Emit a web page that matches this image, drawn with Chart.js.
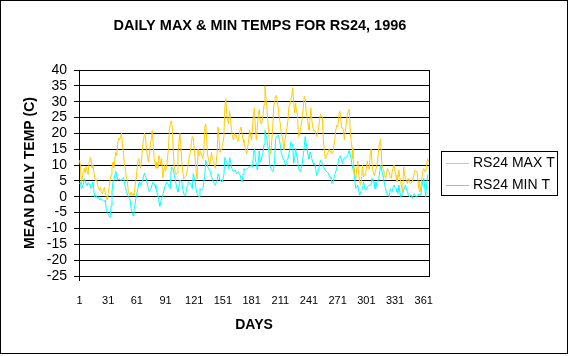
<!DOCTYPE html>
<html><head><meta charset="utf-8">
<script src="https://cdn.jsdelivr.net/npm/chart.js@4"></script>
<style>html,body{margin:0;padding:0;background:#fff}canvas{display:block}</style>
</head><body>
<canvas id="c" width="570" height="356"></canvas>
<script>
const TITLE = 'DAILY MAX & MIN TEMPS FOR RS24, 1996';
const X_TITLE = 'DAYS';
const Y_TITLE = 'MEAN DAILY TEMP (C)';
const SERIES_NAMES = ['RS24 MAX T', 'RS24 MIN T'];
const SERIES_COLORS = ['#FFCC00', '#00FFFF'];
const X_TICK_LABELS = ['1','31','61','91','121','151','181','211','241','271','301','331','361'];
const Y_MIN = -25, Y_MAX = 40, Y_STEP = 5;

const MAX_T = [
 11.5, 10, 4, 6, 8, 9, 7.5, 9.5, 8, 7,
 11, 12.5, 12, 9, 10, 8, 6, 5, 5.5, 3.5,
 3, 2, 3, 1.5, 1, 2, 3, 1, 0, -1,
 1, 3, 5, 7, 9, 11, 9, 12, 14, 13,
 17, 18.5, 18, 19, 20, 16, 14, 10, 9, 6,
 5, 2, 1, 0.5, 1.5, 0.5, 1, 0.5, 3, 5,
 8, 11, 12, 10.5, 9, 12, 16, 18, 20, 19,
 15, 13, 11, 13, 16, 18, 21, 17, 12, 11,
 9, 11, 9, 13, 12, 10, 12, 6, 8, 10,
 8, 9.3, 12, 15, 21, 23, 24, 22, 15, 10,
 8, 7, 7.5, 14, 17, 20, 16, 11, 8, 5.7,
 6, 6.5, 7, 9, 11, 13, 14, 17, 19, 18.5,
 15, 12, 8, 5.7, 15, 13, 14.5, 14, 13, 12,
 14, 22, 23, 18, 13, 12, 10, 11, 14, 12,
 11.5, 10, 9, 11, 14, 22, 18, 14, 15, 16,
 17, 19, 28, 31, 26, 24, 23, 27, 24, 21,
 19, 18, 20, 19, 19.5, 18, 17.5, 19.5, 21, 22,
 20, 18, 17, 16, 14.5, 13.5, 16, 18, 21, 19,
 18, 22, 26, 28, 21, 18, 22, 26, 27.5, 24,
 23, 24, 26, 29, 35, 31, 28, 24, 19.5, 15,
 13.4, 17.5, 21, 28, 30, 31.7, 32, 30, 27.5, 25,
 23, 20, 19, 17, 14.7, 18, 20, 20, 24, 28.5,
 29, 30.7, 32, 34.4, 30, 26.5, 29.5, 27, 26, 19,
 19.5, 21, 23, 25, 28, 31.7, 31, 27, 25, 23,
 21, 24, 28, 24, 22, 20.7, 21, 20, 19, 20,
 21.5, 24, 26, 25.5, 25, 18, 14.7, 12, 12.5, 13.5,
 14, 15, 14.5, 14, 13.5, 14, 16, 18, 21, 22.5,
 22, 25, 27, 26, 21.8, 21.8, 20.7, 18, 20.7, 23,
 26, 27, 27.6, 21.8, 17.6, 15.5, 12, 10, 7, 5.8,
 9, 11.3, 7, 4.7, 3.7, 6, 10, 6.3, 7, 6.8,
 9, 11.3, 9, 8.7, 13.5, 15, 10.4, 8, 6.8, 7.5,
 8.7, 10, 12, 15.6, 17, 18.3, 11, 9, 8.4, 7,
 5.8, 7, 8.9, 8, 7.9, 6, 5.8, 7.9, 9, 10,
 8, 6.8, 4.7, 6, 8.4, 6, 4.7, 2.5, 1.5, 9.4,
 7, 5.8, 5, 4.2, 5.8, 5, 4.2, 4.5, 4.7, 6,
 7.3, 8.4, 8, 7.9, 5, 2.6, 1.5, 3, 5.8, 8,
 8.9, 8, 7.9, 10, 12, 11
];

const MIN_T = [
 4, 4.5, 2.5, 3, 4, 5.7, 5, 4, 3.5, 4.5,
 4, 3.7, 2.6, 3, 4.7, 2, 0, 0.5, 0, -0.5,
 0, -1, -0.5, -1, -1, -1.2, -1.5, -1, -4, -5,
 -5.7, -6, -6.5, -3, 1.5, 4.7, 5, 7, 8, 6.5,
 5.2, 5.5, 5.7, 5.2, 5.2, 5.7, 6, 4.7, 3, 1.6,
 1, 0, -0.5, -1, -3.6, -5, -6, -4, -2.6, -0.5,
 1, 2.6, 4, 4.7, 3.7, 4.5, 5.2, 6.5, 7.5, 6.5,
 5.7, 4, 2.6, 1.6, 2, 2.6, 4, 4.7, 4, 3.7,
 2.5, 1.5, 0.5, -1, -3.1, -1.5, -0.5, 0.5, 1.5, 3.1,
 3.5, 4.7, 4.2, 3.7, 3, 2.6, 9.4, 9, 8.9, 7,
 5.7, 4, 2.6, 1.6, 3, 5.2, 5, 4.7, 2.5, 1,
 0.5, 0.5, 2.6, 3.5, 4.7, 4.5, 4.2, 3.5, 2.6, 7.3,
 6, 4.7, 2.5, 1, 0.5, 0, 2.6, 2.3, 2.1, 2.6,
 4.5, 6.3, 11.5, 10.5, 9.5, 8.9, 8.5, 7.9, 6.3, 5.5,
 4.7, 4.2, 3.7, 4.5, 5.2, 7.3, 6.5, 5.2, 5, 4.7,
 5.5, 6.8, 12.4, 11.5, 10.8, 10, 8.9, 12.4, 11, 9.4,
 8.5, 7.9, 8.2, 8.4, 7.3, 7.5, 7.9, 7.3, 6.8, 5.5,
 4.7, 7, 8.9, 8.4, 8.5, 8.9, 9, 9.4, 9.4, 9.8,
 10, 9.5, 14, 15, 12, 10, 8.5, 11, 14.5, 11,
 11.5, 13, 14, 16.5, 21, 19.5, 18, 16, 14.5, 10,
 9, 8.5, 8, 9, 10.5, 18, 19, 19, 19.5, 18,
 16.5, 14, 12.9, 12, 11.5, 10.5, 10, 11.5, 12, 13.6,
 15, 17.3, 17, 16.3, 10.5, 12, 15.3, 13, 12, 9,
 8.5, 7.9, 9, 10.5, 13, 15.7, 19, 17, 15.3, 13,
 12, 14.2, 13.5, 12, 11, 10, 10.5, 9, 6.8, 7.5,
 8.4, 10, 11.5, 11, 10.5, 9.5, 9, 8.4, 8, 7.9,
 7.5, 6.8, 6.3, 5.8, 4.2, 4.5, 5.8, 7, 7.9, 9,
 10, 12, 12.5, 13, 11.5, 10.5, 12, 12, 12.5, 12.5,
 13, 13.5, 14.6, 13.5, 12, 10, 9, 7.9, 5, 2.6,
 3, 3.7, 2, 0.5, 1.6, 2, 2.6, 4.7, 3.5, 2.1,
 2.5, 3.1, 3.5, 3.7, 3.7, 4, 5.8, 5, 4.7, 2.6,
 2.6, 4.7, 5, 5.8, 8, 10, 8.5, 7.3, 5.8, 4,
 2.6, 1.5, 0.5, 0.5, 0, 2.6, 2, 1.6, 3, 3.7,
 3, 2.6, 1.5, 1, 3.7, 1.5, 0, 0.5, 1, 2.1,
 3, 3.7, 2.5, 1.6, 0.5, 0, 0.5, 0.5, -0.5, 0.5,
 1, 0.5, 0, 0, 0.5, 1, 0.5, 0.5, 3, 4.7,
 5.8, 3, 0, 3.5, 6.8, 7
];

const DAYS = MAX_T.map((_, i) => String(i + 1));
const FONT = '"Liberation Sans", Arial, sans-serif';

const framePlugin = {
  id: 'frame',
  beforeDraw(chart) {
    const g = chart.ctx;
    g.save();
    g.fillStyle = '#fff';
    g.fillRect(0, 0, chart.width, chart.height);
    g.restore();
  },
  afterDraw(chart) {
    const g = chart.ctx, a = chart.chartArea;
    g.save();
    g.strokeStyle = '#000';
    g.lineWidth = 1;
    const rx = Math.round(a.right) + 0.5;
    g.beginPath();
    g.moveTo(rx, Math.round(a.top));
    g.lineTo(rx, Math.round(a.bottom) + 1);
    g.stroke();
    g.strokeRect(0.5, 0.5, 567, 353);
    g.fillStyle = '#000';
    g.font = 'bold 14.5px ' + FONT;
    g.textAlign = 'center';
    g.textBaseline = 'middle';
    g.fillText(TITLE, 260, 26);
    // legend
    g.strokeRect(441.5, 151.5, 116, 44);
    g.font = '14px ' + FONT;
    g.textAlign = 'left';
    chart.data.datasets.forEach((ds, i) => {
      const y = 163 + i * 22;
      g.strokeStyle = ds.borderColor;
      g.beginPath();
      g.moveTo(446, y + 0.5);
      g.lineTo(469, y + 0.5);
      g.stroke();
      g.fillStyle = '#000';
      g.fillText(ds.label, 473, y);
    });
    g.restore();
  }
};

new Chart(document.getElementById('c'), {
  type: 'line',
  data: {
    labels: DAYS,
    datasets: [
      { label: SERIES_NAMES[0], data: MAX_T, borderColor: SERIES_COLORS[0], borderWidth: 1, pointRadius: 0, tension: 0, fill: false },
      { label: SERIES_NAMES[1], data: MIN_T, borderColor: SERIES_COLORS[1], borderWidth: 1, pointRadius: 0, tension: 0, fill: false }
    ]
  },
  options: {
    responsive: false,
    animation: false,
    devicePixelRatio: 1,
    layout: { padding: { left: 0, right: 141, top: 70, bottom: 0 } },
    plugins: { legend: { display: false }, title: { display: false }, tooltip: { enabled: false } },
    scales: {
      x: {
        type: 'category',
        offset: true,
        grid: {
          drawOnChartArea: false, drawTicks: true, tickLength: 5, lineWidth: 1, offset: false,
          tickColor: (ctx) => X_TICK_LABELS.includes(DAYS[ctx.index]) ? '#000' : 'rgba(0,0,0,0)'
        },
        border: { display: true, color: '#000', width: 1 },
        ticks: {
          autoSkip: false, maxRotation: 0, minRotation: 0, padding: 13, color: '#000',
          font: { family: FONT, size: 11 },
          callback: function (v, i) { const l = DAYS[i]; return X_TICK_LABELS.includes(l) ? l : null; }
        },
        title: { display: true, text: X_TITLE, color: '#000', font: { family: FONT, size: 14, weight: 'bold' }, padding: { top: 0, bottom: 22 } },
        afterFit(s) { s.height = 80; }
      },
      y: {
        min: Y_MIN, max: Y_MAX,
        ticks: { stepSize: Y_STEP, autoSkip: false, padding: 7, color: '#000', font: { family: FONT, size: 14 } },
        grid: { color: '#000', lineWidth: 1, tickLength: 5, drawTicks: true },
        border: { display: true, color: '#000', width: 1 },
        title: { display: true, text: Y_TITLE, color: '#000', font: { family: FONT, size: 14, weight: 'bold' }, padding: { top: 22, bottom: 0 } },
        afterFit(s) { s.width = 79; }
      }
    }
  },
  plugins: [framePlugin]
});
</script>
</body></html>
